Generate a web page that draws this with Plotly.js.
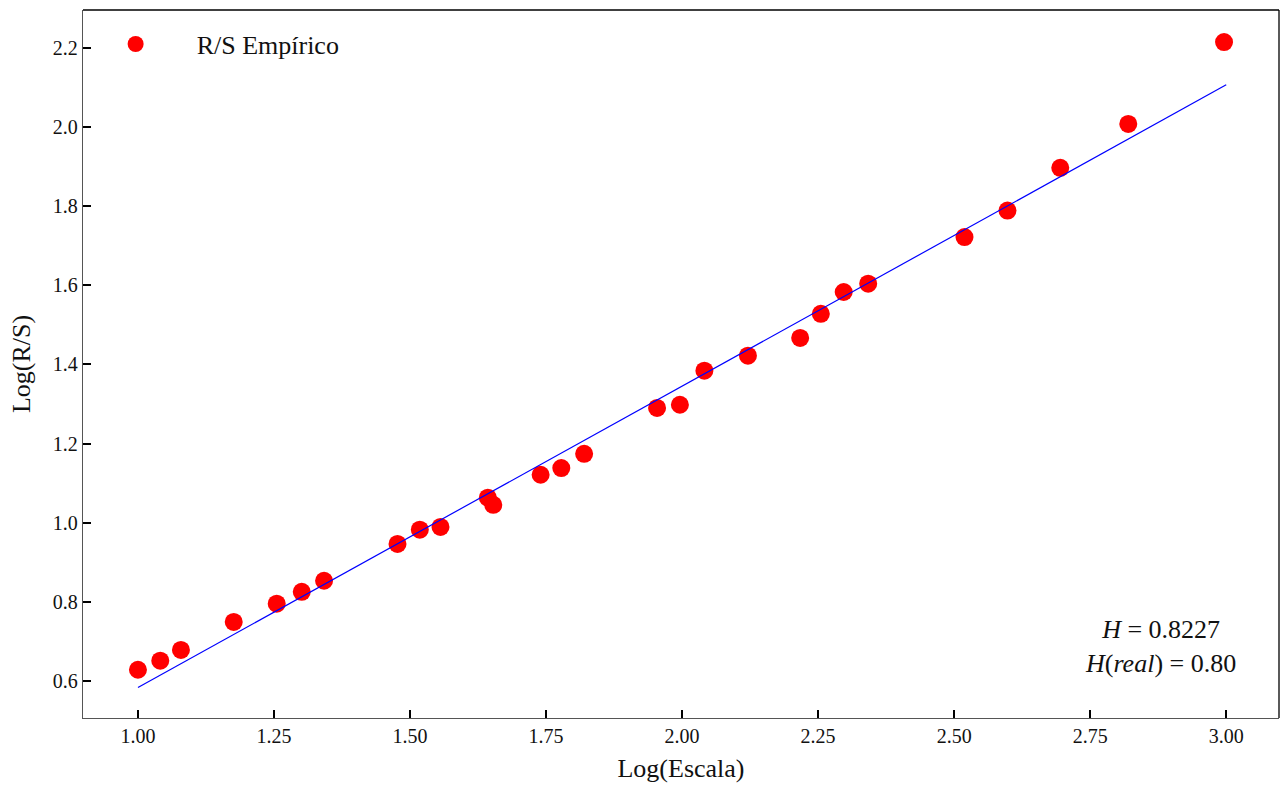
<!DOCTYPE html>
<html>
<head>
<meta charset="utf-8">
<script src="https://cdn.plot.ly/plotly-3.0.1.min.js"></script>
<style>html,body{margin:0;padding:0;background:#fff;}#chart{width:1280px;height:787px;}</style>
</head>
<body>
<div id="chart"></div>
<script>
const logScale = [1.000, 1.041, 1.079, 1.176, 1.255, 1.301, 1.342, 1.477, 1.518, 1.556, 1.643, 1.653, 1.740, 1.778, 1.820, 1.954, 1.996, 2.041, 2.121, 2.217, 2.255, 2.297, 2.342, 2.519, 2.598, 2.695, 2.820, 2.996];
const logRS = [0.628, 0.651, 0.678, 0.749, 0.795, 0.825, 0.853, 0.946, 0.982, 0.989, 1.063, 1.045, 1.121, 1.138, 1.174, 1.290, 1.298, 1.384, 1.422, 1.467, 1.528, 1.583, 1.604, 1.722, 1.789, 1.897, 2.008, 2.215];
const fitX = [1.0, 3.0];
const fitY = [0.583, 2.107];
const xTicks = [1.00, 1.25, 1.50, 1.75, 2.00, 2.25, 2.50, 2.75, 3.00];
const yTicks = [0.6, 0.8, 1.0, 1.2, 1.4, 1.6, 1.8, 2.0, 2.2];

const fontFam = "Liberation Serif, DejaVu Serif, serif";

const traces = [
  {x: logScale, y: logRS, mode: 'markers', type: 'scatter', name: 'R/S Empírico',
   marker: {color: '#ff0000', size: 18}},
  {x: fitX, y: fitY, mode: 'lines', type: 'scatter', showlegend: false,
   line: {color: '#0000ff', width: 1.2}}
];

const axisCommon = {
  showgrid: false, zeroline: false, showline: true, linecolor: '#555', linewidth: 1.3,
  ticks: 'inside', ticklen: 8, tickwidth: 1.5, tickcolor: '#000',
  tickfont: {family: fontFam, size: 20, color: '#111'}
};

const layout = {
  width: 1280, height: 787,
  margin: {l: 83, r: 1, t: 10, b: 69},
  paper_bgcolor: '#fff', plot_bgcolor: '#fff',
  font: {family: fontFam, color: '#111'},
  xaxis: Object.assign({}, axisCommon, {
    range: [0.899, 3.097], tickvals: xTicks, ticktext: xTicks.map(v => v.toFixed(2)),
    title: {text: 'Log(Escala)', font: {family: fontFam, size: 26, color: '#111'}, standoff: 12}
  }),
  yaxis: Object.assign({}, axisCommon, {
    range: [0.506, 2.296], tickvals: yTicks, ticktext: yTicks.map(v => v.toFixed(1)),
    title: {text: 'Log(R/S)', font: {family: fontFam, size: 26, color: '#111'}, standoff: 14}
  }),
  showlegend: true,
  legend: {x: -0.007, y: 0.985, xanchor: 'left', yanchor: 'top', bgcolor: 'rgba(0,0,0,0)',
           font: {family: fontFam, size: 26, color: '#111'}, itemwidth: 112},
  shapes: [
    {type: 'line', xref: 'paper', yref: 'paper', x0: 0, x1: 1, y0: 1, y1: 1, line: {color: '#000', width: 1.3}},
    {type: 'line', xref: 'paper', yref: 'paper', x0: 1, x1: 1, y0: 0, y1: 1, line: {color: '#000', width: 1.3}}
  ],
  annotations: [
    {xref: 'x', yref: 'y', x: 2.879, y: 0.688, xanchor: 'center', yanchor: 'middle', showarrow: false,
     align: 'center',
     text: '<i>H</i> = 0.8227<br><i>H</i>(<i>real</i>) = 0.80',
     font: {family: fontFam, size: 26, color: '#111'}}
  ]
};

Plotly.newPlot('chart', traces, layout, {displayModeBar: false, responsive: false});
</script>
</body>
</html>
